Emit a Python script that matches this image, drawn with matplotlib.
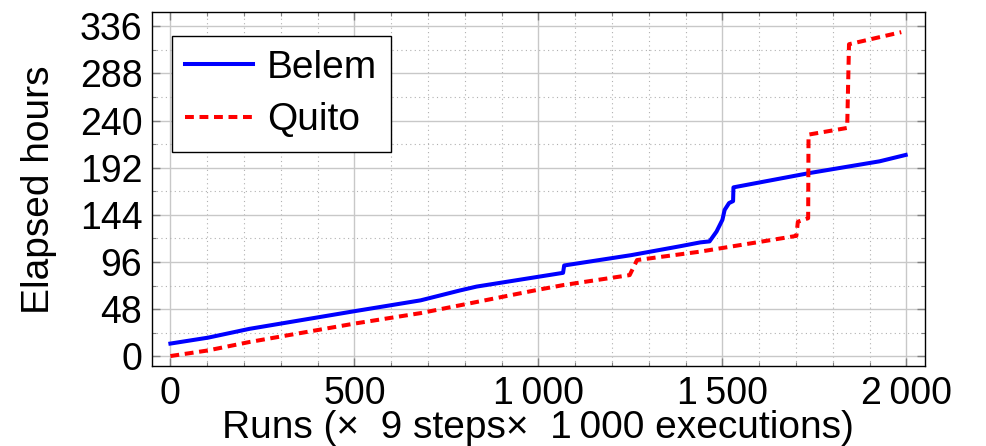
import matplotlib
matplotlib.use("Agg")
import matplotlib.pyplot as plt
from matplotlib.ticker import MultipleLocator, FuncFormatter

plt.rcParams['font.family'] = ['Liberation Sans', 'DejaVu Sans']

belem_x = [0, 102, 215, 501, 680, 786, 832, 1067, 1070, 1252, 1384, 1440, 1465, 1484, 1500, 1506, 1518, 1529, 1530, 1737, 1927, 1998]
belem_y = [13, 19, 28, 46, 57, 67, 71, 85, 92.5, 103, 112, 116, 117, 127, 139, 149, 156, 158, 172, 186.6, 198.5, 205]

quito_x = [0, 102, 215, 501, 680, 994, 1067, 1248, 1268, 1438, 1701, 1705, 1733, 1734, 1839, 1844, 1986]
quito_y = [0.3, 6, 14.6, 33.4, 44, 67.4, 72.5, 82.7, 98, 106.5, 122.6, 137, 140.6, 225.7, 232.5, 317.7, 330]

x_ticks = [0, 500, 1000, 1500, 2000]
y_ticks = [0, 48, 96, 144, 192, 240, 288, 336]

fig = plt.figure(figsize=(9.87, 4.46), dpi=100)
ax = fig.add_axes([0.154, 0.179, 0.783, 0.793])

ax.plot(belem_x, belem_y, color='#0000ff', lw=2.9, label='Belem', zorder=3)
ax.plot(quito_x, quito_y, color='#ff0000', lw=2.9, ls=(0, (2.2, 1.4)), label='Quito', zorder=3)

ax.set_xlim(-50, 2050)
ax.set_ylim(-10, 350)
ax.set_xticks(x_ticks)
ax.set_yticks(y_ticks)
ax.xaxis.set_minor_locator(MultipleLocator(100))
ax.yaxis.set_minor_locator(MultipleLocator(24))

def fmt(v, pos):
    v = int(round(v))
    if v >= 1000:
        return f"{v // 1000}\u2009{v % 1000:03d}"
    return str(v)

ax.xaxis.set_major_formatter(FuncFormatter(fmt))
ax.grid(which='major', color='#c8c8c8', lw=1.0, ls='-')
ax.grid(which='minor', color='#b0b0b0', lw=0.8, ls=(0, (1, 3)))
ax.set_axisbelow(True)

ax.tick_params(which='both', direction='in', top=True, right=True, color='#808080')
ax.tick_params(which='major', length=6, width=1, labelsize=27, pad=7)
ax.tick_params(which='minor', length=3, width=0.8)
for s in ax.spines.values():
    s.set_color('black')
    s.set_linewidth(1.0)

ax.set_xlabel('Runs (\u00d7  9 steps\u00d7  1\u2009000 executions)', fontsize=28, labelpad=-1)
ax.set_ylabel('Elapsed hours', fontsize=28, labelpad=16)

leg = ax.legend(loc='upper left', bbox_to_anchor=(0.0255, 0.933), fontsize=28, frameon=True,
                fancybox=False, edgecolor='black', framealpha=1, handlelength=1.75,
                borderpad=0.35, labelspacing=0.42, handletextpad=0.35, borderaxespad=0)
leg.get_frame().set_linewidth(1.0)

fig.savefig('out.png', dpi=100)
